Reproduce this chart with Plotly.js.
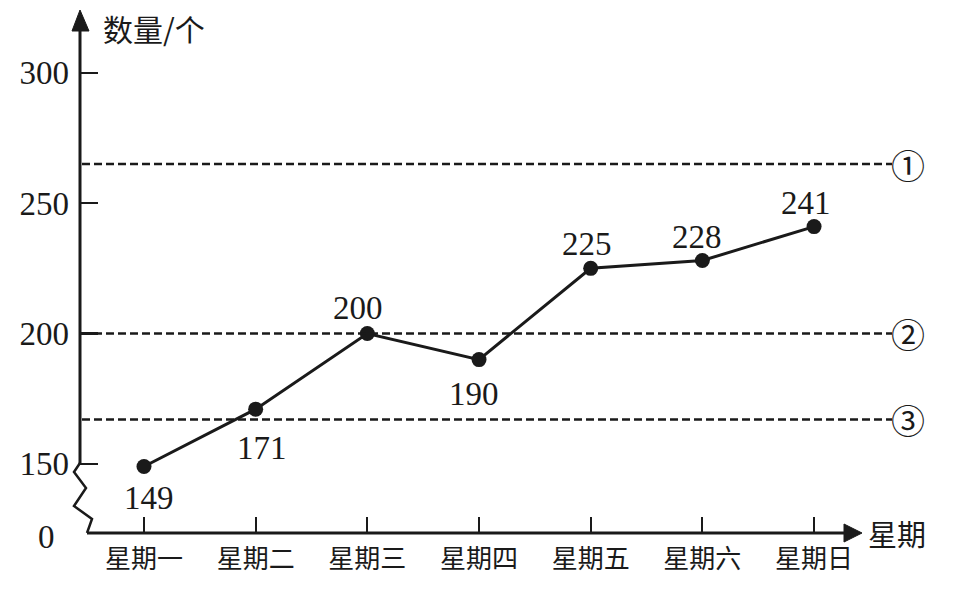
<!DOCTYPE html>
<html>
<head>
<meta charset="utf-8">
<script src="https://cdn.plot.ly/plotly-3.0.1.min.js"></script>
<style>html,body{margin:0;padding:0;background:#fff;}#chart{width:955px;height:589px;}</style>
</head>
<body>
<div id="chart"></div>
<script>
// ---- data ----
const days = ['星期一','星期二','星期三','星期四','星期五','星期六','星期日'];
const counts = [149, 171, 200, 190, 225, 228, 241];
const refValues = [265, 200, 167];
const refLabels = ['①','②','③'];
const yTickVals = [150, 200, 250, 300];
const yTickText = ['150', '200', '250', '300'];

// ---- layout geometry (pixels) ----
const W = 955, H = 589;
const L = 80, R = 870, T = 12, B = 533;
const xRange = [-0.573, 6.501];
const yRange = [123.5, 323.3];
const px = x => (x - L) / (R - L);
const py = y => (B - y) / (B - T);
const ink = '#1a1a1a';
const serif = 'Liberation Serif, Times New Roman, serif';
const cjk = 'Noto Sans CJK SC, sans-serif';

// label placement (style): pixel offsets of each value label from its point
const labelDx = [5, 6, -9, -5, -4, -5, -8];
const labelDy = [-31, -39, 26, -34, 24, 24, 24];

const shapes = [];
// y axis line with arrow
shapes.push({type:'line', xref:'paper', yref:'paper', x0:0, x1:0, y0:py(464), y1:py(26), line:{color:ink, width:3}});
shapes.push({type:'path', xref:'paper', yref:'paper',
  path:`M ${px(72)} ${py(31)} L ${px(80)} ${py(10)} L ${px(89)} ${py(31)} Z`, fillcolor:ink, line:{color:ink, width:1}});
// zigzag break
shapes.push({type:'path', xref:'paper', yref:'paper',
  path:`M ${px(80)} ${py(463)} L ${px(74)} ${py(472)} L ${px(86)} ${py(488)} L ${px(74)} ${py(506)} L ${px(92)} ${py(519)} L ${px(87)} ${py(533)}`,
  line:{color:ink, width:2.5}});
// x axis line with arrow
shapes.push({type:'line', xref:'paper', yref:'paper', x0:px(87), x1:px(848), y0:0, y1:0, line:{color:ink, width:3}});
shapes.push({type:'path', xref:'paper', yref:'paper',
  path:`M ${px(844)} ${py(524)} L ${px(862)} ${py(533)} L ${px(844)} ${py(542)} Z`, fillcolor:ink, line:{color:ink, width:1}});
// reference dashed lines
refValues.forEach(v => {
  shapes.push({type:'line', xref:'paper', yref:'y', x0:px(82), x1:px(892), y0:v, y1:v,
    line:{color:ink, width:2.6, dash:'8px,4px'}});
});

const annotations = [];
annotations.push({xref:'paper', yref:'paper', x:px(101), y:py(28), xanchor:'left', yanchor:'middle',
  text:'数量/个', showarrow:false, font:{family:cjk, size:30, color:ink}});
annotations.push({xref:'paper', yref:'paper', x:px(866), y:py(533), xanchor:'left', yanchor:'middle',
  text:'星期', showarrow:false, font:{family:cjk, size:29, color:ink}});
annotations.push({xref:'paper', yref:'paper', x:px(46), y:py(537), xanchor:'center', yanchor:'middle',
  text:'0', showarrow:false, font:{family:serif, size:33, color:ink}});
refValues.forEach((v, i) => {
  annotations.push({xref:'paper', yref:'y', x:px(908), y:v, xanchor:'center', yanchor:'middle',
    text:refLabels[i], showarrow:false, font:{family:cjk, size:34, color:ink}});
});
counts.forEach((c, i) => {
  annotations.push({xref:'x', yref:'y', x:days[i], y:c, xanchor:'center', yanchor:'middle',
    xshift:labelDx[i], yshift:labelDy[i],
    text:String(c), showarrow:false, font:{family:serif, size:33, color:ink}});
});

const trace = {
  x: days, y: counts, type:'scatter', mode:'lines+markers',
  line:{color:ink, width:3}, marker:{color:ink, size:15},
  hoverinfo:'skip', showlegend:false, cliponaxis:false
};

const layout = {
  width:W, height:H, margin:{l:L, r:W-R, t:T, b:H-B},
  paper_bgcolor:'#fff', plot_bgcolor:'#fff', showlegend:false,
  xaxis:{type:'category', range:xRange, showgrid:false, zeroline:false, showline:false,
    ticks:'inside', ticklen:16, tickwidth:2, tickcolor:ink, ticklabelstandoff:8,
    tickfont:{family:cjk, size:26, color:ink}, fixedrange:true},
  yaxis:{range:yRange, showgrid:false, zeroline:false, showline:false,
    tickvals:yTickVals, ticktext:yTickText,
    ticks:'inside', ticklen:18, tickwidth:2.5, tickcolor:ink, ticklabelstandoff:10,
    tickfont:{family:serif, size:33, color:ink}, fixedrange:true},
  shapes:shapes, annotations:annotations
};

Plotly.newPlot('chart', [trace], layout, {displayModeBar:false, staticPlot:true});
</script>
</body>
</html>
